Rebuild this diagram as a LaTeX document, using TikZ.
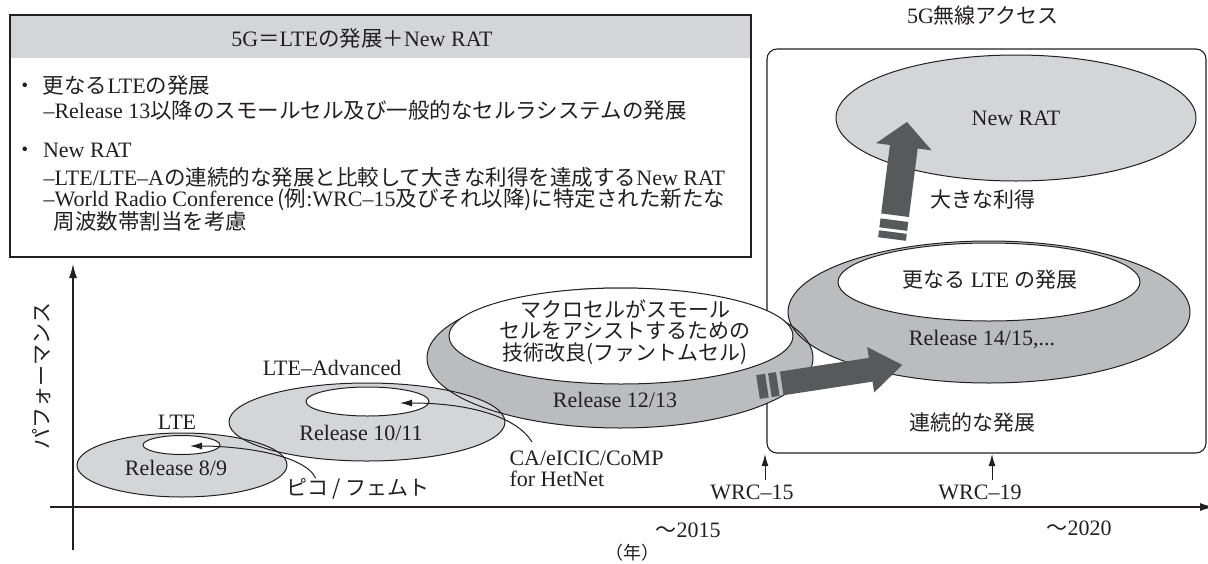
\documentclass[tikz,border=0pt]{standalone}
\usepackage{fontspec}
\setmainfont{Liberation Serif}
\newfontfamily\jpfont{Noto Sans CJK JP}
\newcommand\jp[1]{{\jpfont\fontsize{21}{21.5}\selectfont #1}}
\newcommand\bj[1]{{\jpfont\fontsize{21.5}{24}\selectfont #1}}
\usetikzlibrary{arrows.meta,calc,shapes.geometric}
\definecolor{palegray}{HTML}{D4D5D7}
\definecolor{ringgray}{HTML}{BBBCBE}
\definecolor{arrowgray}{HTML}{58595B}
\definecolor{inkblack}{HTML}{231F20}
\tikzset{
  lbl/.style={font=\fontsize{22}{21.5}\selectfont, inner sep=0pt},
  boxtxt/.style={anchor=west, font=\fontsize{22}{24}\selectfont, inner sep=0pt},
  ptr/.style={line width=1pt, -{Latex[length=12pt,width=7pt]}},
}

\begin{document}
\begin{tikzpicture}[x=1pt,y=-1pt,inkblack,line width=1pt]
  \useasboundingbox (0,0) rectangle (1208,563);

  % Box of the 5G radio access
  \draw[line width=1.1pt,rounded corners=10pt] (767,49) rectangle (1206,453);
  \node[lbl] (acc) at (983,16) {5G\jp{無線アクセス}};

  % The summary box
  \fill[palegray] (10,15) rectangle (751,58);
  \draw[line width=1.1pt] (10,15) rectangle (751,257);
  \node[boxtxt,anchor=center] (hdr) at (362,38) {5G\bj{＝}LTE\bj{の発展＋}New RAT};
  \node[boxtxt] (b1) at (14,85) {\bj{・}\hspace{7pt}\bj{更なる}LTE\bj{の発展}};
  \node[boxtxt] (b1a) at (43,110) {--Release 13\bj{以降のスモールセル及び一般的なセルラシステムの発展}};
  \node[boxtxt] (b2) at (14,150) {\bj{・}\hspace{7pt}New RAT};
  \node[boxtxt] (b2a) at (43,177) {--LTE/LTE--A\bj{の連続的な発展と比較して大きな利得を達成する}New RAT};
  \node[boxtxt] (b2b) at (43,200) {--World Radio Conference\,\bj{(例}:WRC--15\bj{及びそれ以降)に特定された新たな}};
  \node[boxtxt] (b2c) at (53,221) {\bj{周波数帯割当を考慮}};

  % Cell centres
  \coordinate (c89) at (182,465);
  \coordinate (c1011) at (367,422);
  \coordinate (c1213) at (620,358);
  \coordinate (c1415) at (989,312);

  % Fills first, the rims on top
  \fill[ringgray] (c1213) ellipse [x radius=193, y radius=70];
  \fill[ringgray] (c1415) ellipse [x radius=201, y radius=71];
  \fill[palegray] (c1011) ellipse [x radius=138, y radius=39];
  \fill[palegray] (c89) ellipse [x radius=105, y radius=32];
  \foreach \c/\a/\b in {c1213/193/70, c1415/201/71, c1011/138/39, c89/105/32}
    \draw (\c) ellipse [x radius=\a, y radius=\b];

  % The small cells
  \draw[fill=white] (621,336) ellipse [x radius=172, y radius=48];
  \draw[fill=white] (989,282) ellipse [x radius=151, y radius=39];
  \draw[fill=white] (367.5,401.5) ellipse [x radius=61.5, y radius=14.5];
  \draw[fill=white] (181.5,445) ellipse [x radius=38.5, y radius=9.5];

  \node[ellipse,draw,fill=palegray,minimum width=360,minimum height=126,lbl] (nrat) at (1016,118) {New RAT};

  % Fat arrows
  \coordinate (gtail) at (758,387);
  \begin{scope}[shift={(gtail)},rotate=8.7]
    \fill[arrowgray] (0,-12) rectangle (9,12) (12,-12) rectangle (20,12);
    \fill[arrowgray] (24,-12) -- (114,-12) -- (114,-23) -- (146,0) -- (114,23) -- (114,12) -- (24,12) -- cycle;
  \end{scope}
  \coordinate (jtail) at (892,239);
  \begin{scope}[shift={(jtail)},rotate=82.7]
    \fill[arrowgray] (0,-14) rectangle (7,14) (10,-14) rectangle (19,14);
    \fill[arrowgray] (24,-14) -- (93,-14) -- (93,-28) -- (118,0) -- (93,28) -- (93,14) -- (24,14) -- cycle;
  \end{scope}

  % The labels
  \node[lbl] (lte) at (177,422) {LTE};
  \node[lbl] (l89) at (176,468) {Release 8/9};
  \node[lbl] (ltea) at (332,368) {LTE--Advanced};
  \node[lbl] (l1011) at (361,433) {Release 10/11};
  \node[lbl,align=center] (phantom) at (625,332) {\jp{マクロセルがスモール}\\\jp{セルをアシストするための}\\\jp{技術改良(ファントムセル)}};
  \node[lbl] (l1213) at (615,400) {Release 12/13};
  \node[lbl] (more) at (990,280) {\jp{更なる} LTE \jp{の発展}};
  \node[lbl] (l1415) at (982,340) {Release 14/15,...};
  \node[lbl] (gain) at (983,200) {\jp{大きな利得}};
  \node[lbl] (evo) at (972,423) {\jp{連続的な発展}};
  \node[lbl,rotate=90] (perf) at (42,376) {\jp{パフォーマンス}};

  % Pointers to the small cells
  \coordinate (t89) at (190,446);
  \coordinate (t1011) at (400,403);
  \node[lbl] (pico) at (358,489) {\jp{ピコ / フェムト}};
  \node[lbl,align=left,anchor=north west] (ca) at (509,450) {CA/eICIC/CoMP\\for HetNet};
  \draw[ptr] ([xshift=30pt]pico.north west) .. controls +(-12,-25) and +(45,0) .. (t89);
  \draw[ptr] ([xshift=23pt,yshift=8pt]ca.north west) .. controls +(-15,-25) and +(70,0) .. (t1011);

  % Axes
  \draw[line width=1.2pt,-{Latex[length=14pt,width=8pt]}] (73,550) -- (73,264);
  \draw[line width=1.2pt,-{Latex[length=14pt,width=8pt]}] (50,507) -- (1214,507);
  \node[lbl] (w15) at (752,492) {WRC--15};
  \node[lbl] (w19) at (980,492) {WRC--19};
  \draw[ptr] ([xshift=13pt,yshift=4pt]w15.north) -- ++(0,-26);
  \draw[ptr] ([xshift=12pt,yshift=4pt]w19.north) -- ++(0,-26);
  \node[lbl] (y15) at (688,530) {\jp{～}2015};
  \node[lbl] (y20) at (1079,528) {\jp{～}2020};
  \node[lbl,font=\fontsize{18}{20}\selectfont] (yr) at (632,553) {{\jpfont （年）}};
\end{tikzpicture}
\end{document}
